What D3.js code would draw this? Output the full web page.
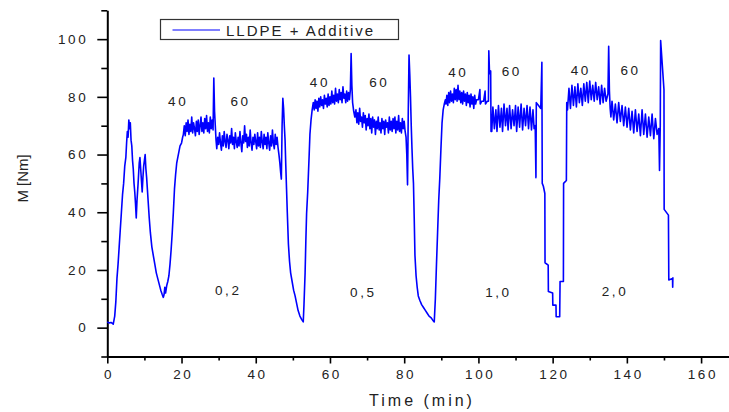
<!DOCTYPE html>
<html>
<head>
<meta charset="utf-8">
<script src="https://cdn.jsdelivr.net/npm/d3@7"></script>
<style>
  body { margin: 0; background: #fff; }
  svg { display: block; font-family: "Liberation Sans", Arial, sans-serif; }
</style>
</head>
<body>
<div id="chart"></div>
<script>
// torque trace, [time (min), torque (Nm)]
const stage02 = [
  [0,2.0],[0.5,1.6],[1,1.8],[1.6,1.2],[2.0,4],[2.3,9],[2.6,17],[2.9,22],[3.2,28],[3.5,34],[3.8,40],[4.1,46],
  [4.4,50],[4.7,56],[5.0,59],[5.2,64],[5.4,68],[5.6,66],[5.8,72],[6.0,69],[6.2,71],[6.4,65],[6.6,63],[6.8,58],
  [7.0,55],[7.2,50],[7.4,47],[7.6,43],[7.8,38],[8.0,44],[8.3,50],[8.6,57],[8.8,59],[9.0,55],[9.2,51],[9.4,47],
  [9.6,52],[9.8,56],[10.0,58],[10.2,60],[10.4,55],[10.6,52],[10.8,48],[11.0,44],[11.3,38],[11.6,33],[12.0,28],
  [12.4,25],[12.8,22],[13.2,19],[13.6,17],[14.0,15],[14.4,13],[14.8,11.5],[15.1,10.5],[15.3,11.5],[15.5,14],
  [15.7,12],[16.0,14.5],[16.3,16],[16.6,18],[16.9,22],[17.2,27],[17.5,33],[17.8,40],[18.1,48],[18.4,53],
  [18.7,57],[19.0,59],[19.3,61],[19.6,63],[20.0,64],[20.3,66],
  [20.5,67],[20.75,70],[21,66.5],[21.25,71],[21.5,68],[21.75,72],[22,67],[22.25,70.5],[22.5,68],[22.75,73],
  [23,67.5],[23.25,71],[23.5,69],[23.75,66.5],[24,71.5],[24.25,68],[24.5,72],[24.75,67],[25,70],[25.25,73],
  [25.5,68],[25.75,71],[26,67.5],[26.25,72.5],[26.5,69],[26.75,73.5],[27,68],[27.25,71],[27.5,67.5],[27.75,73],
  [28,69],[28.25,72],[28.5,68.5],[28.7,86.5],[28.9,75],[29.1,70],[29.3,65],
  [29.5,62],[29.75,66],[30,63.5],[30.25,67.5],[30.5,64],[30.75,61.5],[31,66.5],[31.25,63],[31.5,68],[31.75,64.5],
  [32,62.5],[32.25,67],[32.5,65],[32.75,62],[33,66.5],[33.25,64],[33.5,69],[33.75,63.5],[34,66],[34.25,62],
  [34.5,67.5],[34.75,64.5],[35,62.5],[35.25,66],[35.5,63],[35.75,68],[36,64],[36.25,61],[36.5,66.5],[36.75,64],
  [37,70],[37.25,64.5],[37.5,67],[37.75,62.5],[38,66],[38.25,63],[38.5,68.5],[38.75,64],[39,61.5],[39.25,66],
  [39.5,63.5],[39.75,67],[40,64.5],[40.25,62],[40.5,67.5],[40.75,63],[41,66],[41.25,62.5],[41.5,68],[41.75,64.5],
  [42,62],[42.25,67],[42.5,63.5],[42.75,66],[43,62],[43.25,67.5],[43.5,64],[43.75,61.5],[44,66.5],[44.25,63],
  [44.5,68.5],[44.75,64],[45,62],[45.25,67],[45.5,63.5],[45.75,66],[46,62.5],[46.25,60],[46.5,57],[46.7,54],[46.9,51.5]
];

const stage05 = [
  [47.1,70],[47.3,79.5],[47.5,76],[47.7,70],[47.9,65],[48.1,56],[48.3,48],[48.5,40],[48.8,29],[49.1,23],[49.4,19],
  [49.8,16],[50.2,13],[50.6,11],[51.0,8.5],[51.4,6],[51.9,4],[52.4,2.8],[52.8,2.0],[53.0,8],[53.3,19],[53.5,30],
  [53.7,39.5],[54.0,47],[54.2,53.5],[54.4,60],[54.6,67],[54.9,72],[55.2,75.5],
  [55.5,78],[55.75,75.5],[56,79],[56.25,76],[56.5,78.5],[56.75,75],[57,79.5],[57.25,76.5],[57.5,80],[57.75,77],
  [58,79],[58.25,76],[58.5,80.5],[58.75,77.5],[59,79.5],[59.25,76.5],[59.5,81],[59.75,77],[60,80],[60.25,77.5],
  [60.5,82],[60.75,78],[61,80.5],[61.25,77.5],[61.5,83],[61.75,78.5],[62,81],[62.25,78],[62.5,82.5],[62.75,79],
  [63,81.5],[63.25,78],[63.5,83.5],[63.75,79.5],[64,81],[64.25,78],[64.5,82],[64.75,78.5],[65,81.5],[65.25,79],
  [65.5,82.5],[65.7,95],[65.9,84],[66.1,78],[66.4,75],[66.7,73],
  [67,75.5],[67.25,71],[67.5,74.5],[67.75,70.5],[68,76],[68.25,71.5],[68.5,73],[68.75,69.5],[69,74.5],[69.25,71],
  [69.5,73.5],[69.75,68.5],[70,72.5],[70.25,70],[70.5,74],[70.75,69],[71,72.5],[71.25,67.5],[71.5,73],[71.75,69.5],
  [72,72],[72.25,67],[72.5,71.5],[72.75,69],[73,73],[73.25,68.5],[73.5,71],[73.75,67.5],[74,72.5],[74.25,69],
  [74.5,71.5],[74.75,67],[75,72],[75.25,69.5],[75.5,71],[75.75,67.5],[76,73],[76.25,68.5],[76.5,71.5],[76.75,68],
  [77,72.5],[77.25,69],[77.5,73],[77.75,67.5],[78,71.5],[78.25,68.5],[78.5,73.5],[78.75,68],[79,71],[79.25,67.5],
  [79.5,72.5],[79.75,69],[80,71.5],[80.25,68],[80.5,66],[80.7,60],[80.9,49.5]
];

const stage10 = [
  [81.1,75],[81.3,94.5],[81.5,88],[81.7,80],[81.9,70],[82.1,62],[82.3,55],[82.5,50],[82.7,38],[82.9,25],[83.2,18],
  [83.5,14],[83.8,11],[84.2,9.5],[84.7,8],[85.2,7],[85.7,6],[86.2,5],[86.7,4],[87.2,3.5],[87.7,2.6],[88.1,2.0],
  [88.4,10],[88.7,22],[89.0,33],[89.3,44],[89.6,52],[89.9,62],[90.2,71],[90.5,75.5],[90.8,77.5],[91.1,79],
  [91.25,77.5],[91.5,80.5],[91.75,77],[92,81.5],[92.25,78],[92.5,82],[92.75,78.5],[93,81],[93.25,78],[93.5,83],
  [93.75,79],[94,82.5],[94.25,78.5],[94.5,84],[94.75,79],[95,82],[95.25,78],[95.5,81.5],[95.75,77.5],[96,82],
  [96.25,78.5],[96.5,81],[96.75,77],[97,81.5],[97.25,78],[97.5,80.5],[97.75,76.5],[98,81],[98.25,77.5],[98.5,80],
  [98.75,76],[99,80.5],[99.25,77.5],[99.5,79],
  [100.0,79],[100.4,82.5],[100.5,77.5],[100.9,78.5],[101.4,78.5],[101.8,82],[101.9,77.5],[102.4,78.5],[102.7,78.5],
  [102.8,96],[103.0,88],[103.3,89],[103.4,68],[103.6,68],
  [103.9,76.5],[104.3,69],[104.7,75.5],[105.0,68],[105.4,77],[105.8,69.5],[106.2,76],[106.5,68],[106.9,77.5],
  [107.3,70],[107.7,76],[108.0,68.5],[108.4,77],[108.8,69],[109.2,75.5],[109.6,70],[110.0,77],[110.3,68],
  [110.7,76.5],[111.1,69.5],[111.5,77.5],[111.9,68.5],[112.3,76],[112.7,70],[113.1,77],[113.5,69],[113.9,76.5],
  [114.3,68.5],[114.7,75.5],[115.0,69],[115.3,70]
];

const stage20 = [
  [115.5,52],[115.6,78],[116.2,77],[116.8,76],[117.1,92],[117.2,50],[117.5,49],[117.9,46.5],[117.95,22.5],
  [118.8,21.7],[118.85,12.5],[120.0,12],[120.05,7.8],[120.9,7.8],[120.95,3.8],[121.9,3.8],[122.0,16],[122.9,16],
  [122.95,50],[123.7,51],[123.8,78],
  [124.0,75.5],[124.4,83],[124.8,76],[125.2,84],[125.6,77],[126.0,83.5],[126.4,76.5],[126.8,84.5],[127.2,78],
  [127.6,83],[128.0,77],[128.4,84.5],[128.8,78.5],[129.2,85],[129.6,78],[130.0,85.5],[130.4,79],[130.8,84],
  [131.2,78.5],[131.6,85],[132.0,79],[132.4,83.5],[132.8,77.5],[133.2,84],[133.6,78],[134.0,83],[134.4,78.5],
  [134.9,81],[135.1,97.5],[135.3,82],[135.5,76],[135.7,73],
  [136.0,78.5],[136.45,72],[136.9,77.5],[137.35,71],[137.8,78],[138.25,71.5],[138.7,77],[139.15,70],[139.6,76.5],
  [140.05,69.5],[140.5,76],[140.95,68.5],[141.4,75],[141.85,67.5],[142.3,75.5],[142.75,68],[143.2,74],[143.65,66.5],
  [144.1,75.5],[144.55,67],[145.0,74],[145.45,66],[145.9,73],[146.35,66.5],[146.8,74],[147.25,65.5],[147.7,72.5],
  [148.15,67],[148.6,69],[148.8,54.5],[149.0,70],
  [149.1,99.5],[150.0,82.5],[150.05,41],[151.2,39],[151.3,16.5],[152.3,17],[152.35,14],[152.4,17.5]
];

// rotor speed and additive level labels
const notes = [
  { text: '40', t: 19.1, v: 78.3 }, { text: '60', t: 35.9, v: 78.3 }, { text: '0,2', t: 32.6, v: 12.8 },
  { text: '40', t: 57.3, v: 85.2 }, { text: '60', t: 73.3, v: 84.9 }, { text: '0,5', t: 69.0, v: 12.4 },
  { text: '40', t: 94.6, v: 88.5 }, { text: '60', t: 109.0, v: 88.7 }, { text: '1,0', t: 105.4, v: 12.4 },
  { text: '40', t: 127.6, v: 89.1 }, { text: '60', t: 141.0, v: 89.1 }, { text: '2,0', t: 136.8, v: 12.7 }
];

const xMajor = [0, 20, 40, 60, 80, 100, 120, 140, 160];
const xMinor = [10, 30, 50, 70, 90, 110, 130, 150];
const yMajor = [0, 20, 40, 60, 80, 100];
const yMinor = [-10, 10, 30, 50, 70, 90, 110];
const seriesName = 'LLDPE + Additive';

const width = 729;
const height = 412;
const blue = '#0000ff';
const ink = '#222';

const x = d3.scaleLinear().domain([0, 170]).range([107.3, 738.2]);
const y = d3.scaleLinear().domain([-10, 110]).range([356.5, 10.3]);

const svg = d3.select('#chart')
  .append('svg')
  .attr('width', width)
  .attr('height', height);

// axes: major ticks labelled, minor ticks short
function styleAxis(g) {
  g.selectAll('path, line').attr('stroke', '#000');
  g.select('.domain').attr('stroke-width', 2);
  g.selectAll('.tick line').attr('stroke-width', 1.6);
  g.selectAll('text')
    .attr('fill', ink)
    .style('font-size', '13.5px')
    .style('letter-spacing', '2.6px');
}

svg.append('g')
  .attr('transform', `translate(0,${y(-10)})`)
  .call(d3.axisBottom(x).tickValues(xMinor).tickSize(4).tickFormat('').tickSizeOuter(0))
  .call(g => g.select('.domain').remove())
  .call(styleAxis);

svg.append('g')
  .attr('transform', `translate(0,${y(-10)})`)
  .call(d3.axisBottom(x).tickValues(xMajor).tickSize(7).tickPadding(6).tickSizeOuter(0))
  .call(styleAxis)
  .call(g => g.selectAll('text').attr('dx', '1.3px'));

svg.append('g')
  .attr('transform', `translate(${x(0)},0)`)
  .call(d3.axisLeft(y).tickValues(yMinor).tickSize(6).tickFormat('').tickSizeOuter(0))
  .call(g => g.select('.domain').remove())
  .call(styleAxis);

svg.append('g')
  .attr('transform', `translate(${x(0)},0)`)
  .call(d3.axisLeft(y).tickValues(yMajor).tickSize(10).tickPadding(9).tickSizeOuter(0))
  .call(styleAxis);

// axis titles
svg.append('text')
  .attr('x', 422)
  .attr('y', 406)
  .attr('text-anchor', 'middle')
  .attr('fill', ink)
  .style('font-size', '16px')
  .style('letter-spacing', '3px')
  .text('Time (min)');

svg.append('text')
  .attr('transform', `translate(28,${(y(-10) + y(110)) / 2 - 5}) rotate(-90)`)
  .attr('text-anchor', 'middle')
  .attr('fill', ink)
  .style('font-size', '15px')
  .text('M [Nm]');

// the trace itself
const trace = [].concat(stage02, stage05, stage10, stage20);
const line = d3.line()
  .x(d => x(d[0]))
  .y(d => y(d[1]));

svg.append('path')
  .datum(trace)
  .attr('d', line)
  .attr('fill', 'none')
  .attr('stroke', blue)
  .attr('stroke-width', 1.6)
  .attr('stroke-linejoin', 'round');

svg.selectAll('.note')
  .data(notes)
  .enter()
  .append('text')
  .attr('class', 'note')
  .attr('x', d => x(d.t))
  .attr('y', d => y(d.v))
  .attr('dy', '0.35em')
  .attr('text-anchor', 'middle')
  .attr('fill', ink)
  .style('font-size', '13.5px')
  .style('letter-spacing', '2.6px')
  .text(d => d.text);

// legend
const legend = svg.append('g');
legend.append('rect')
  .attr('x', 160.5)
  .attr('y', 19.5)
  .attr('width', 238)
  .attr('height', 20)
  .attr('fill', '#fff')
  .attr('stroke', '#333')
  .attr('stroke-width', 1.2);
legend.append('line')
  .attr('x1', 172.5)
  .attr('x2', 220)
  .attr('y1', 30)
  .attr('y2', 30)
  .attr('stroke', blue)
  .attr('stroke-width', 1.2);
legend.append('text')
  .attr('x', 226)
  .attr('y', 35.5)
  .attr('fill', ink)
  .style('font-size', '15px')
  .style('letter-spacing', '2px')
  .text(seriesName);
</script>
</body>
</html>
